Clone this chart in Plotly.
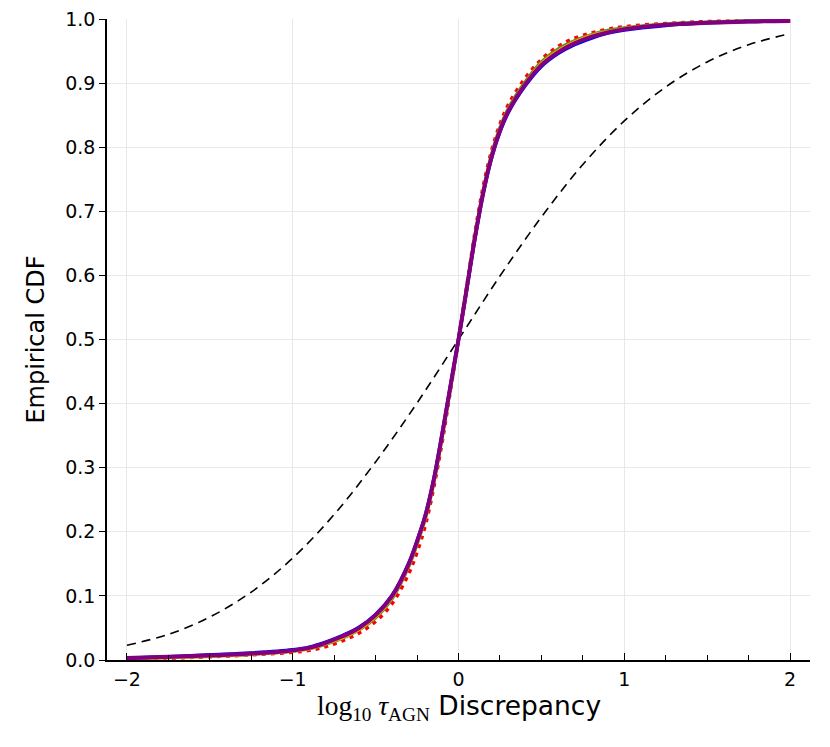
"""Empirical CDF of log10 tau_AGN discrepancy."""

import plotly.graph_objects as go

# reference normal CDF (black dashed)
ref_x = [-2.0, -1.75, -1.5, -1.25, -1.0, -0.75, -0.5, -0.25, 0.0,
         0.25, 0.5, 0.75, 1.0, 1.25, 1.5, 1.75, 2.0]
ref_cdf = [0.023, 0.040, 0.067, 0.106, 0.159, 0.227, 0.309, 0.401, 0.500,
           0.599, 0.691, 0.773, 0.841, 0.894, 0.933, 0.960, 0.977]

# empirical CDF grid
x_vals = [-2.0, -1.75, -1.5, -1.25, -1.0, -0.9, -0.8, -0.7, -0.6, -0.5,
          -0.4, -0.3, -0.25, -0.2, -0.15, -0.1, -0.05, 0.0, 0.05, 0.1,
          0.15, 0.2, 0.25, 0.3, 0.4, 0.5, 0.6, 0.7, 0.8, 0.9,
          1.0, 1.25, 1.5, 1.75, 2.0]

cdf_red = [0.002, 0.003, 0.005, 0.008, 0.012, 0.015, 0.021, 0.030, 0.042, 0.060,
           0.088, 0.135, 0.168, 0.210, 0.268, 0.338, 0.418, 0.500, 0.584, 0.668,
           0.740, 0.795, 0.836, 0.866, 0.907, 0.937, 0.957, 0.970, 0.978, 0.984,
           0.988, 0.993, 0.996, 0.997, 0.998]
cdf_green = [0.002, 0.004, 0.006, 0.009, 0.014, 0.018, 0.025, 0.034, 0.047, 0.066,
             0.096, 0.146, 0.181, 0.221, 0.276, 0.346, 0.423, 0.500, 0.581, 0.662,
             0.733, 0.789, 0.830, 0.860, 0.901, 0.933, 0.953, 0.966, 0.975, 0.982,
             0.986, 0.992, 0.995, 0.997, 0.998]
cdf_orange = [0.003, 0.004, 0.006, 0.009, 0.014, 0.018, 0.026, 0.035, 0.048, 0.068,
              0.098, 0.148, 0.183, 0.223, 0.278, 0.348, 0.424, 0.500, 0.580, 0.660,
              0.731, 0.786, 0.827, 0.857, 0.898, 0.930, 0.950, 0.964, 0.974, 0.980,
              0.985, 0.991, 0.994, 0.996, 0.997]
cdf_blue = [0.003, 0.005, 0.008, 0.011, 0.016, 0.020, 0.028, 0.038, 0.051, 0.071,
            0.101, 0.151, 0.186, 0.226, 0.281, 0.351, 0.426, 0.500, 0.579, 0.659,
            0.729, 0.784, 0.824, 0.854, 0.895, 0.926, 0.946, 0.960, 0.970, 0.978,
            0.983, 0.990, 0.994, 0.996, 0.997]
cdf_purple = [0.003, 0.005, 0.007, 0.010, 0.015, 0.019, 0.027, 0.037, 0.050, 0.070,
              0.100, 0.150, 0.185, 0.225, 0.280, 0.350, 0.425, 0.500, 0.580, 0.660,
              0.730, 0.785, 0.826, 0.856, 0.897, 0.928, 0.948, 0.962, 0.972, 0.979,
              0.984, 0.991, 0.994, 0.996, 0.997]

y_ticks = [0.0, 0.1, 0.2, 0.3, 0.4, 0.5, 0.6, 0.7, 0.8, 0.9, 1.0]
x_ticks = [-2, -1, 0, 1, 2]

FONT = "DejaVu Sans"

fig = go.Figure()

fig.add_trace(go.Scatter(x=ref_x, y=ref_cdf, mode="lines", line=dict(color="black", width=1.6, dash="9px,6px"),
                         line_shape="spline", showlegend=False))

# red dotted underneath, solid lines on top (purple last)
fig.add_trace(go.Scatter(x=x_vals, y=cdf_red, mode="lines", line=dict(color="#ff0000", width=3.5, dash="4px,5px"),
                         line_shape="spline", showlegend=False))

for ys, col, w in [(cdf_green, "#5f8a1f", 3.5), (cdf_orange, "#ffa500", 3.5),
                   (cdf_blue, "#0000ff", 3.5), (cdf_purple, "#800080", 4)]:
    fig.add_trace(go.Scatter(x=x_vals, y=ys, mode="lines", line=dict(color=col, width=w),
                             line_shape="spline", showlegend=False))

fig.update_xaxes(
    range=[-2.12, 2.12],
    tickvals=x_ticks,
    ticks="inside",
    ticklen=7,
    tickcolor="black",
    ticklabelstandoff=1,
    ticklabeloverflow="allow",
    minor=dict(ticks="inside", ticklen=5, dtick=0.25, tick0=0, tickcolor="black", showgrid=False),
    showline=True,
    linecolor="black",
    linewidth=1.5,
    showgrid=True,
    gridcolor="#e8e8e8",
    zeroline=False,
    automargin=False,
    tickfont=dict(family=FONT, size=19, color="black"),
)

fig.update_yaxes(
    range=[0, 1],
    tickvals=y_ticks,
    tickformat=".1f",
    ticks="outside",
    ticklen=6,
    tickcolor="black",
    ticklabelstandoff=0,
    ticklabeloverflow="allow",
    showline=True,
    linecolor="black",
    linewidth=1.5,
    showgrid=True,
    gridcolor="#e8e8e8",
    zeroline=False,
    automargin=False,
    tickfont=dict(family=FONT, size=19, color="black"),
    title=dict(text="Empirical CDF", font=dict(family=FONT, size=24, color="black"), standoff=14),
)

# x title as annotation so it can sit close to the tick labels
fig.add_annotation(
    text="<span style='font-family:Liberation Serif;font-size:27.5px'>log<sub>10</sub> <i>τ</i><sub>AGN</sub></span> Discrepancy",
    font=dict(family=FONT, size=26.5, color="black"),
    xref="paper", yref="paper", x=0.5, y=-0.074,
    xanchor="center", yanchor="middle", showarrow=False,
)

# page body adds an 8px offset, margins compensate for it
fig.update_layout(
    width=830,
    height=747,
    margin=dict(l=99, r=28, t=11, b=95),
    plot_bgcolor="white",
    paper_bgcolor="white",
)

fig.write_html("out.html")
